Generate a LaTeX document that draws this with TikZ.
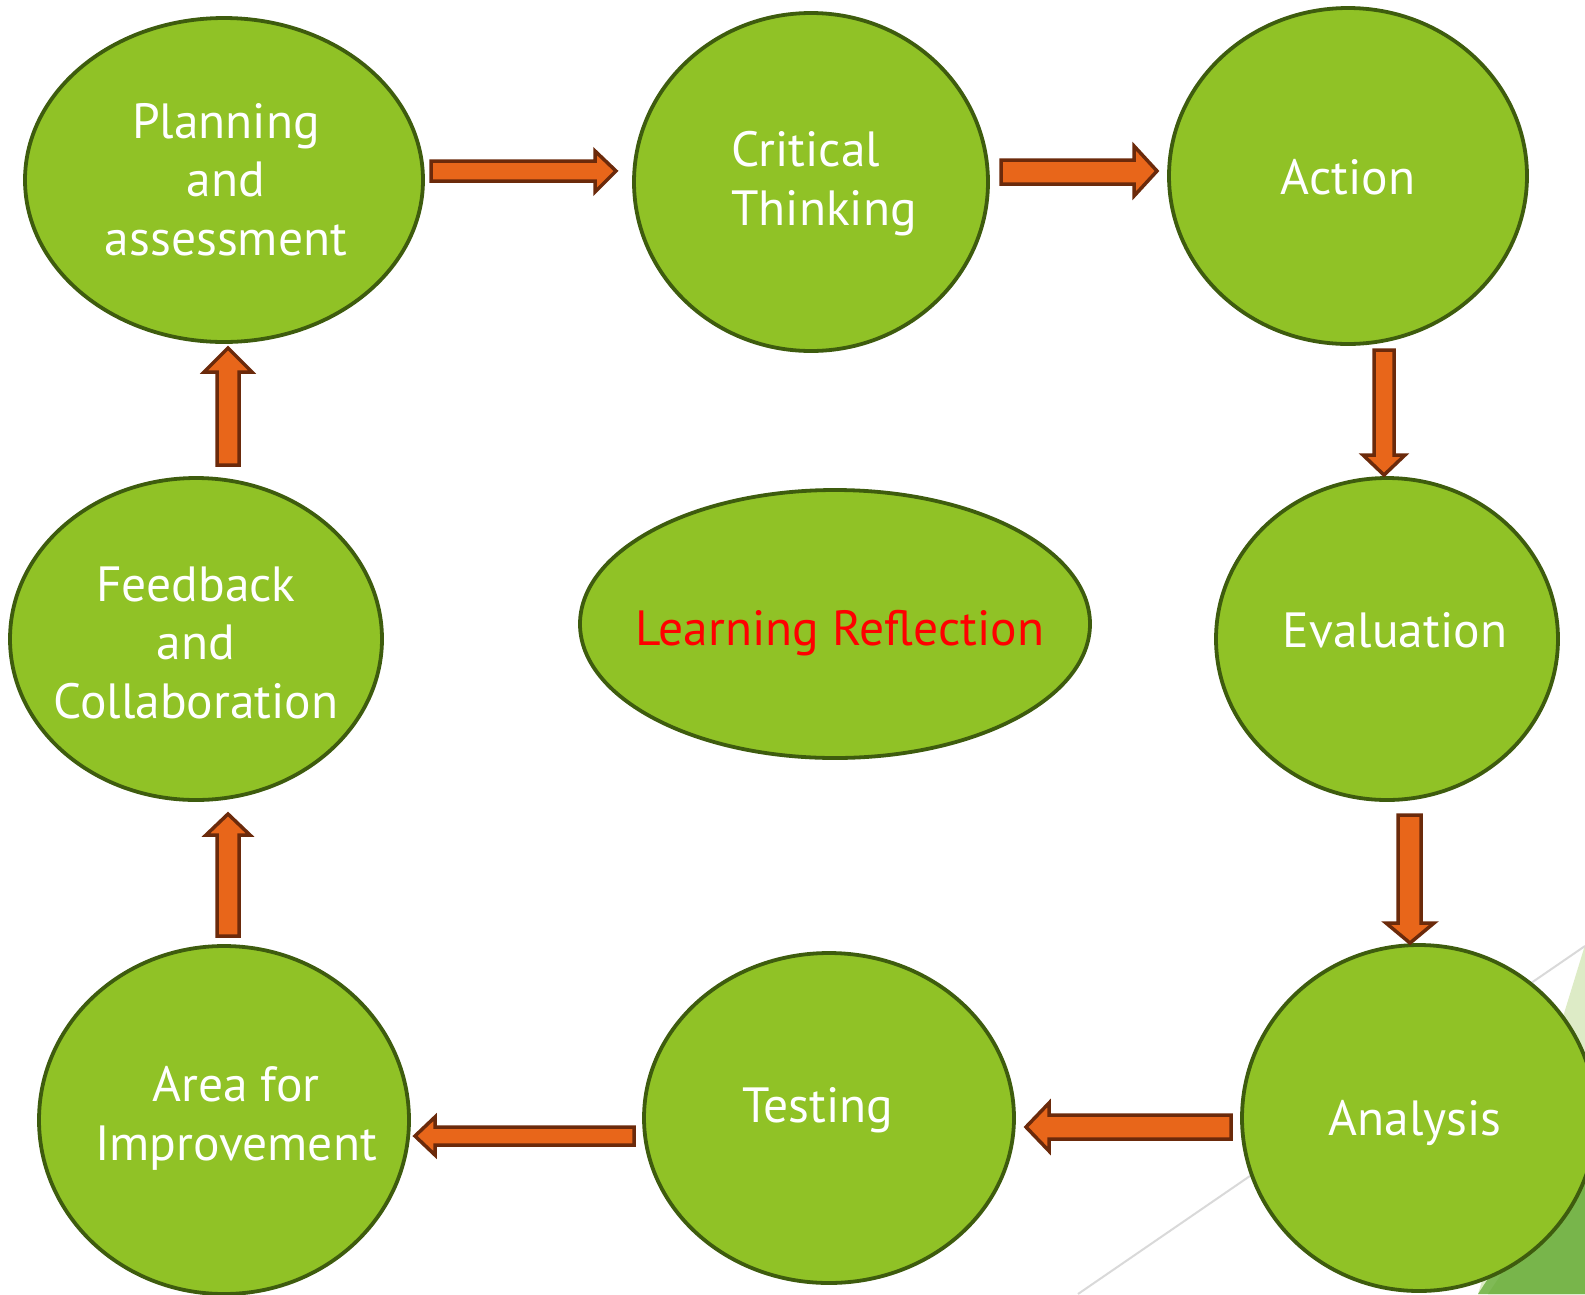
\documentclass[tikz,border=0pt]{standalone}
\usepackage{fontspec}
\setmainfont{PT Sans}
\usetikzlibrary{shapes.geometric}
\definecolor{leaf}{HTML}{90C226}
\definecolor{leafline}{HTML}{3E5C0E}
\definecolor{arrowfill}{HTML}{E8661A}
\definecolor{arrowline}{HTML}{6B2A0B}
\definecolor{palegreen}{HTML}{DDEBC6}
\definecolor{midgreen}{HTML}{80BA56}
\definecolor{deepgreen}{HTML}{78B54B}
\definecolor{rulegray}{HTML}{D9D9D9}
\tikzset{
  stage/.style={ellipse, draw=leafline, fill=leaf, line width=3.8pt, inner sep=0pt},
  label text/.style={text=white, inner sep=0pt, align=center, anchor=base,
    font=\fontsize{49.5}{58.5}\selectfont},
  blockarrow/.style={fill=arrowfill, draw=arrowline, line width=3.5pt, line join=miter},
}
\begin{document}
\begin{tikzpicture}[x=1pt, y=-1pt]
\useasboundingbox (0,0) rectangle (1585,1294);
% corner ornament
\begin{scope}
\clip (0,0) rectangle (1585,1294);
\fill[palegreen] (1585,945) -- (1478,1294) -- (1585,1294) -- cycle;
\fill[midgreen] (1478,1294) -- (1585,1130) -- (1585,1294) -- cycle;
\fill[deepgreen] (1488,1294) -- (1585,1150) -- (1585,1294) -- cycle;
\draw[rulegray, line width=2pt] (1078,1294) -- (1585,946);
\end{scope}

% stages
\node[stage, minimum width=398pt, minimum height=324pt] (plan) at (224,180) {};
\node[stage, minimum width=354pt, minimum height=338pt] (crit) at (811,182) {};
\node[stage, minimum width=358pt, minimum height=336pt] (act) at (1348,176) {};
\node[stage, minimum width=342pt, minimum height=322pt] (eval) at (1387,639) {};
\begin{scope}
\clip (0,0) rectangle (1585,1294);
\node[stage, minimum width=354pt, minimum height=346pt] (anal) at (1419,1118) {};
\node[stage, minimum width=370pt, minimum height=348pt] (area) at (224,1120) {};
\end{scope}
\node[stage, minimum width=370pt, minimum height=330pt] (test) at (829,1118) {};
\node[stage, minimum width=372pt, minimum height=322pt] (feed) at (196,639) {};
\node[stage, minimum width=510pt, minimum height=268pt] (learn) at (835,624) {};

% labels (multi-line labels sit on their last baseline)
\node[label text] (planT) at (226,255) {Planning\\and\\assessment};
\node[label text, align=left, anchor=base west] (critT) at (731,225) {Critical\\Thinking};
\node[label text] (actT) at (1348,194) {Action};
\node[label text] (evalT) at (1395,647) {Evaluation};
\node[label text] (analT) at (1415,1135) {Analysis};
\node[label text] (testT) at (818,1122) {Testing};
\node[label text] (areaT) at (236,1160) {Area for\\Improvement};
\node[label text] (feedT) at (196,718) {Feedback\\and\\Collaboration};
\node[label text, text=red] (learnT) at (840,645) {Learning Reflection};

% block arrows between stages
\draw[blockarrow] (431,161) -- (595,161) -- (595,151) -- (616,171) -- (595,192) -- (595,181) -- (431,181) -- cycle;
\draw[blockarrow] (1001,160) -- (1134,160) -- (1134,146) -- (1157,171) -- (1134,196) -- (1134,184) -- (1001,184) -- cycle;
\draw[blockarrow] (1374,350) -- (1394,350) -- (1394,455) -- (1405,455) -- (1384,475) -- (1363,455) -- (1374,455) -- cycle;
\draw[blockarrow] (1398,815) -- (1421,815) -- (1421,923) -- (1434,923) -- (1410,943) -- (1386,923) -- (1398,923) -- cycle;
\draw[blockarrow] (1231,1115) -- (1049,1115) -- (1049,1103) -- (1026,1127) -- (1049,1151) -- (1049,1139) -- (1231,1139) -- cycle;
\draw[blockarrow] (634,1127) -- (435,1127) -- (435,1117) -- (415,1136) -- (435,1155) -- (435,1145) -- (634,1145) -- cycle;
\draw[blockarrow] (217,936) -- (217,835) -- (206,835) -- (228,814) -- (250,835) -- (239,835) -- (239,936) -- cycle;
\draw[blockarrow] (217,465) -- (217,372) -- (204,372) -- (228,348) -- (252,372) -- (239,372) -- (239,465) -- cycle;
\end{tikzpicture}
\end{document}
